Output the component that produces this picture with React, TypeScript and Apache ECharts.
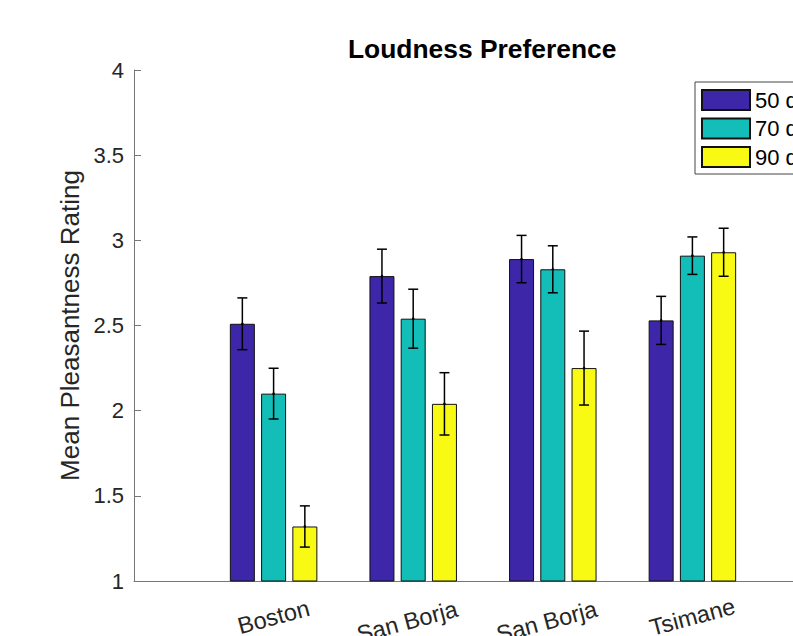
import React, { useEffect, useRef } from "react";
import * as echarts from "echarts";

const categories = ["", "Boston", "San Borja", "San Borja", "Tsimane", ""];
const seriesNames = ["50 dB", "70 dB", "90 dB"];
const means50 = [2.51, 2.79, 2.89, 2.53];
const means70 = [2.1, 2.54, 2.83, 2.91];
const means90 = [1.32, 2.04, 2.25, 2.93];
const err50 = [0.152, 0.158, 0.139, 0.141];
const err70 = [0.149, 0.173, 0.138, 0.11];
const err90 = [0.121, 0.183, 0.217, 0.141];
const yTicks = { min: 1, max: 4, interval: 0.5 };

const colors = ["#3E26A8", "#13BEB8", "#F9FA14"];
const FONT = "'Liberation Sans', Arial, Helvetica, sans-serif";
const BAR_W = 25;
const BAR_GAP = 0.25;

export default function App() {
  const ref = useRef<HTMLDivElement>(null);
  useEffect(() => {
    if (!ref.current) return;
    const chart = echarts.init(ref.current, undefined, { renderer: "svg" });
    const allMeans = [means50, means70, means90];
    const allErr = [err50, err70, err90];
    const pitch = BAR_W * (1 + BAR_GAP);

    const barSeries = allMeans.map((m, s) => ({
      name: seriesNames[s],
      type: "bar",
      data: [null, ...m, null],
      barWidth: BAR_W,
      barGap: BAR_GAP * 100 + "%",
      itemStyle: { color: colors[s], borderColor: "#111", borderWidth: 1 },
      z: 2,
    }));

    const errSeries = allMeans.map((m, s) => ({
      name: "err" + s,
      type: "custom",
      z: 5,
      clip: false,
      silent: true,
      data: m.map((v, i) => [i + 1, v - allErr[s][i], v + allErr[s][i], v]),
      renderItem: (params: any, api: any) => {
        const xi = api.value(0);
        const lo = api.coord([xi, api.value(1)]);
        const hi = api.coord([xi, api.value(2)]);
        const mid = api.coord([xi, api.value(3)]);
        const x = lo[0] + (s - 1) * pitch;
        const st = { stroke: "#000", lineWidth: 1.5 };
        return {
          type: "group",
          children: [
            { type: "line", shape: { x1: x, y1: lo[1], x2: x, y2: hi[1] }, style: st },
            { type: "line", shape: { x1: x - 5, y1: lo[1], x2: x + 5, y2: lo[1] }, style: st },
            { type: "line", shape: { x1: x - 5, y1: hi[1], x2: x + 5, y2: hi[1] }, style: st },
            { type: "circle", shape: { cx: x, cy: mid[1], r: 1.3 }, style: { fill: "#000" } },
          ],
        };
      },
    }));

    chart.setOption({
      animation: false,
      textStyle: { fontFamily: FONT },
      title: {
        text: "Loudness Preference",
        left: 348,
        top: 36,
        padding: 0,
        textStyle: { fontSize: 26.4, fontWeight: "bold", color: "#000", fontFamily: FONT },
      },
      legend: {
        data: seriesNames,
        orient: "vertical",
        left: 695,
        top: 82,
        padding: [7, 40, 6, 6],
        itemWidth: 48,
        itemHeight: 20,
        itemGap: 6.5,
        icon: "rect",
        borderColor: "#444",
        borderWidth: 1,
        backgroundColor: "#fff",
        textStyle: { fontSize: 22, color: "#000", lineHeight: 20, fontFamily: FONT },
      },
      grid: { left: 134, top: 70, width: 698, height: 511, outerBoundsMode: "none", containLabel: false },
      xAxis: {
        type: "category",
        data: categories,
        dedplication: false,
        boundaryGap: false,
        axisLine: { lineStyle: { color: "#777", width: 1 } },
        axisTick: { show: false },
        axisLabel: {
          interval: 0,
          rotate: 15,
          align: "center",
          verticalAlign: "middle",
          margin: 36,
          fontSize: 23.5,
          color: "#262626",
          fontFamily: FONT,
          hideOverlap: false,
          formatter: (v: string) => (v.startsWith("San") ? `{sb|${v}}` : `{n|${v}}`),
          rich: {
            n: { fontSize: 23.5, color: "#262626", fontFamily: FONT },
            sb: { fontSize: 23.5, color: "#262626", fontFamily: FONT, padding: [6, 14, 0, 0] },
          },
        },
        splitLine: { show: false },
      },
      yAxis: {
        type: "value",
        min: yTicks.min,
        max: yTicks.max,
        interval: yTicks.interval,
        name: "Mean Pleasantness Rating",
        nameLocation: "middle",
        nameGap: 44,
        nameTextStyle: { fontSize: 26, color: "#262626", fontFamily: FONT },
        axisLine: { show: true, lineStyle: { color: "#777", width: 1 } },
        axisTick: { show: true, inside: true, length: 7, lineStyle: { color: "#777" } },
        axisLabel: { fontSize: 22, color: "#262626", margin: 10, fontFamily: FONT },
        splitLine: { show: false },
      },
      series: [...barSeries, ...errSeries],
    });
    return () => chart.dispose();
  }, []);
  return (
    <div
      ref={ref}
      style={{ position: "fixed", left: 0, top: 0, width: 793, height: 636, background: "#fff" }}
    />
  );
}
